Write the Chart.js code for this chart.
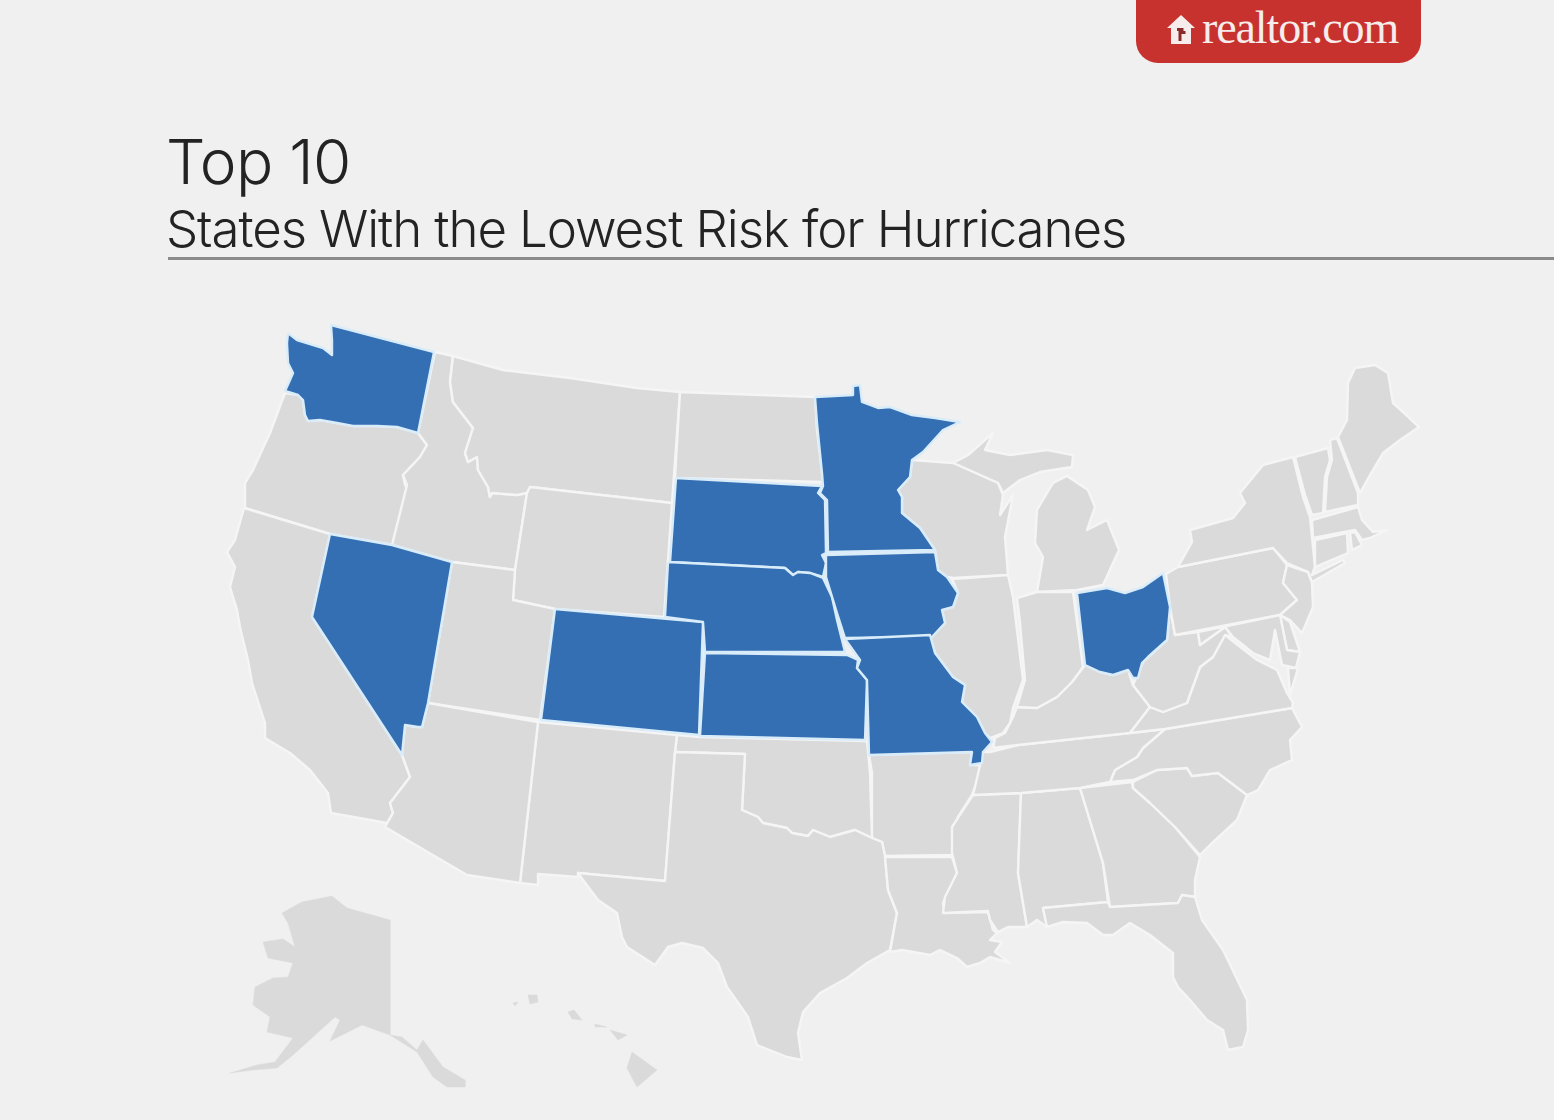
<!DOCTYPE html>
<html><head><meta charset="utf-8">
<script src="https://cdn.jsdelivr.net/npm/chart.js@4/dist/chart.umd.min.js"></script>
<style>
html,body{margin:0;padding:0;background:#f0f0f0;width:1554px;height:1120px;overflow:hidden}
#c{position:absolute;left:0;top:0}
.t{position:absolute;left:166px;font-family:Inter,sans-serif;font-weight:300;color:#232323;white-space:nowrap}
#t1{top:124px;font-size:62px;line-height:76px;letter-spacing:-0.7px}
#t2{top:198px;font-size:51px;line-height:62px;letter-spacing:-1.1px}
#rule{position:absolute;left:168px;top:257px;width:1386px;height:3px;background:#8b8b8b}
#logo{position:absolute;left:1136px;top:-20px;width:285px;height:83px;background:#c8322e;border-radius:22px}
#logoT{position:absolute;left:66px;top:23px;font:46px/50px "Liberation Serif",serif;color:#f6ecec;letter-spacing:-1.1px}
#logo svg{position:absolute;left:31px;top:35px}
</style></head><body>
<canvas id="c" width="1554" height="1120"></canvas>
<div id="t1" class="t">Top 10</div>
<div id="t2" class="t">States With the Lowest Risk for Hurricanes</div>
<div id="rule"></div>
<div id="logo"><svg width="28" height="30" viewBox="0 0 28 30"><path d="M14 0 L28 13 L24 13 L24 29 L4 29 L4 13 L0 13 Z" fill="#f6ecec"/><path d="M10 13h6.500v3h2v3h-4v7h-3v-10h-1.500z" fill="#8a2a2a"/></svg><div id="logoT">realtor.com</div></div>
<script>
const stateNames=["Washington","Nevada","South Dakota","Colorado","Nebraska","Kansas","Iowa","Minnesota","Missouri","Ohio"];
const washington=[[288,333],[297,340],[310,344],[323,348],[332,355],[332,340],[331,325],[434,352],[418,433],[397,427],[377,426],[353,426],[337,423],[320,420],[308,421],[305,415],[303,400],[298,395],[285,391],[290,380],[293,373],[288,363],[287,343]];
const oregon=[[285,393],[298,395],[303,400],[305,415],[308,421],[320,420],[337,423],[353,426],[377,426],[397,427],[418,433],[427,445],[420,457],[403,475],[405,485],[407,488],[393,545],[330,534],[245,508],[245,483],[253,470],[270,433]];
const california=[[244,508],[330,534],[312,617],[402,755],[410,777],[400,790],[390,803],[393,813],[387,823],[331,813],[328,793],[310,770],[290,753],[265,738],[265,723],[252,683],[248,660],[243,640],[240,627],[237,610],[230,587],[235,567],[227,552],[235,540]];
const nevada=[[330,534],[392,545],[452,562],[428,703],[422,727],[418,727],[405,725],[402,755],[312,617]];
const idaho=[[435,352],[453,356],[450,382],[453,402],[473,428],[465,453],[468,462],[477,457],[478,470],[488,487],[490,497],[492,493],[517,495],[527,493],[515,570],[452,562],[392,545],[407,485],[403,475],[420,457],[427,445],[418,433]];
const montana=[[453,356],[503,370],[570,378],[637,388],[680,392],[672,503],[530,487],[527,493],[517,495],[492,493],[490,497],[488,487],[478,470],[477,457],[468,462],[465,453],[473,428],[453,402],[450,382]];
const northDakota=[[680,392],[815,397],[817,430],[823,482],[675,478]];
const southDakota=[[676,478],[822,486],[818,493],[825,500],[826,553],[822,555],[826,563],[823,577],[810,573],[798,572],[793,575],[785,568],[670,562]];
const wyoming=[[530,487],[672,503],[664,617],[555,609],[513,600],[515,570],[527,493]];
const utah=[[452,562],[515,570],[513,600],[555,609],[540,720],[428,703]];
const colorado=[[555,609],[703,622],[699,735],[541,720]];
const nebraska=[[668,562],[785,568],[793,575],[798,572],[810,573],[823,578],[832,597],[837,620],[845,652],[705,652],[703,622],[665,617]];
const kansas=[[705,653],[847,655],[858,660],[857,668],[867,680],[865,740],[700,736]];
const iowa=[[826,555],[935,552],[938,570],[947,577],[958,593],[953,607],[942,610],[945,623],[932,637],[845,638],[837,613],[826,577],[826,563]];
const minnesota=[[815,397],[853,395],[853,386],[860,385],[862,402],[878,408],[890,407],[912,415],[935,418],[960,422],[943,430],[923,452],[912,460],[910,477],[898,490],[902,497],[902,513],[920,528],[935,550],[828,552],[827,500],[820,493],[823,486],[822,473],[817,423]];
const missouri=[[845,639],[930,635],[935,653],[953,677],[965,685],[962,702],[977,717],[985,733],[992,742],[983,752],[982,763],[970,765],[972,752],[869,755],[867,680],[857,668],[860,660]];
const arkansas=[[869,755],[972,752],[970,765],[982,765],[975,787],[972,795],[958,817],[952,830],[953,855],[885,856],[882,842],[872,838],[872,773]];
const oklahoma=[[677,735],[700,737],[867,741],[870,773],[872,838],[855,830],[830,837],[813,830],[808,836],[792,833],[787,828],[763,823],[758,817],[742,810],[745,754],[675,752]];
const newMexico=[[538,722],[677,735],[675,752],[665,881],[578,873],[578,877],[538,874],[538,885],[520,883]];
const arizona=[[428,703],[538,722],[520,883],[467,875],[385,827],[393,813],[390,803],[400,790],[410,777],[402,755],[405,725],[418,727],[422,727]];
const texas=[[675,752],[745,754],[742,810],[758,817],[763,823],[787,828],[792,833],[808,836],[813,830],[830,837],[855,830],[872,838],[882,842],[885,856],[888,890],[897,913],[890,950],[867,963],[847,978],[820,993],[803,1012],[798,1033],[802,1060],[787,1057],[757,1045],[748,1017],[727,987],[718,963],[703,948],[682,943],[668,947],[655,965],[627,947],[622,937],[617,913],[598,900],[583,880],[578,873],[665,881]];
const louisiana=[[885,857],[952,857],[957,873],[943,903],[945,913],[988,912],[993,930],[997,933],[990,940],[1002,942],[995,952],[1010,963],[990,957],[980,963],[967,967],[957,958],[940,950],[930,955],[902,950],[890,952],[897,913],[888,890]];
const mississippi=[[973,795],[1021,793],[1018,873],[1027,927],[1008,927],[998,932],[990,920],[988,911],[943,913],[945,897],[957,873],[952,853],[952,827],[963,810]];
const alabama=[[1021,793],[1080,788],[1103,863],[1108,902],[1043,908],[1047,927],[1037,920],[1027,927],[1018,873]];
const georgia=[[1080,788],[1132,782],[1133,788],[1150,803],[1175,827],[1200,857],[1195,880],[1195,897],[1182,895],[1178,903],[1110,907],[1103,863]];
const florida=[[1043,908],[1108,902],[1110,907],[1178,903],[1182,895],[1195,897],[1202,920],[1223,950],[1247,1000],[1248,1030],[1243,1047],[1228,1050],[1223,1030],[1207,1020],[1190,1000],[1178,987],[1173,977],[1173,953],[1150,935],[1130,923],[1113,935],[1103,935],[1087,923],[1063,922],[1047,927]];
const southCarolina=[[1133,782],[1157,770],[1187,768],[1192,776],[1218,773],[1247,795],[1237,820],[1210,845],[1200,855],[1175,827],[1150,803],[1133,788]];
const northCarolina=[[1165,729],[1292,708],[1302,727],[1290,740],[1292,760],[1270,770],[1258,790],[1247,795],[1218,773],[1192,776],[1187,768],[1157,770],[1133,780],[1110,782],[1115,770],[1137,757],[1143,748]];
const tennessee=[[973,795],[1021,793],[1080,788],[1110,782],[1115,770],[1137,757],[1143,748],[1165,729],[1130,733],[1018,745],[990,752],[983,752],[975,787]];
const kentucky=[[993,748],[1018,745],[1130,733],[1150,707],[1133,685],[1128,670],[1113,675],[1100,672],[1085,665],[1072,682],[1057,697],[1037,708],[1017,707],[1013,717],[1005,733],[995,738]];
const virginia=[[1130,733],[1150,707],[1163,712],[1187,703],[1200,667],[1213,657],[1225,635],[1257,660],[1277,670],[1287,693],[1293,703],[1292,708],[1165,729]];
const virginiaShore=[[1288,668],[1298,668],[1290,695]];
const westVirginia=[[1170,607],[1175,635],[1198,632],[1200,645],[1225,627],[1233,637],[1225,635],[1213,657],[1200,667],[1187,703],[1163,712],[1150,707],[1133,685],[1143,662],[1167,640]];
const pennsylvania=[[1178,567],[1273,548],[1287,565],[1283,583],[1297,600],[1280,615],[1175,635],[1170,607],[1166,574]];
const newYork=[[1178,567],[1192,542],[1190,530],[1233,518],[1245,503],[1240,493],[1263,465],[1293,457],[1303,497],[1310,517],[1315,567],[1312,575],[1343,560],[1345,563],[1312,582],[1308,572],[1287,563],[1273,548]];
const newJersey=[[1287,565],[1308,572],[1312,583],[1313,607],[1302,633],[1290,620],[1280,615],[1297,600],[1283,583]];
const delaware=[[1280,615],[1290,622],[1300,652],[1287,650]];
const maryland=[[1198,632],[1280,615],[1287,650],[1300,652],[1296,668],[1282,665],[1275,630],[1270,660],[1253,653],[1233,637],[1225,627],[1200,645]];
const connecticut=[[1315,540],[1347,533],[1348,553],[1315,567]];
const rhodeIsland=[[1350,533],[1355,532],[1362,545],[1352,550]];
const massachusetts=[[1312,520],[1358,507],[1362,520],[1373,532],[1387,530],[1370,538],[1362,540],[1355,530],[1313,538]];
const vermont=[[1295,457],[1328,448],[1330,460],[1325,477],[1323,513],[1312,515],[1305,495]];
const newHampshire=[[1330,440],[1337,438],[1358,493],[1358,505],[1325,512],[1327,477],[1332,460]];
const maine=[[1338,437],[1347,420],[1348,383],[1355,368],[1375,365],[1388,373],[1393,403],[1403,412],[1419,427],[1400,440],[1383,453],[1370,475],[1360,493]];
const michiganUpper=[[953,463],[968,455],[993,433],[985,450],[1010,455],[1047,450],[1073,455],[1072,467],[1040,472],[1020,480],[1003,493],[998,483],[980,475]];
const michiganLower=[[1037,592],[1043,557],[1035,543],[1037,510],[1053,483],[1067,476],[1088,490],[1095,507],[1087,530],[1107,520],[1119,550],[1113,563],[1103,585],[1077,590]];
const wisconsin=[[912,460],[953,463],[980,475],[998,483],[1003,495],[1000,515],[1013,495],[1005,537],[1008,575],[953,578],[947,577],[938,570],[935,550],[920,528],[902,513],[902,497],[898,490],[910,477]];
const illinois=[[952,579],[1008,575],[1013,597],[1023,680],[1013,708],[1010,723],[1003,733],[990,738],[985,733],[977,717],[962,702],[965,685],[953,677],[935,653],[930,637],[945,623],[942,610],[953,607],[958,593]];
const indiana=[[1017,598],[1037,592],[1073,592],[1083,667],[1072,682],[1057,697],[1037,708],[1017,707],[1025,680],[1020,623]];
const ohio=[[1077,593],[1107,588],[1125,593],[1143,587],[1163,573],[1170,607],[1167,640],[1148,657],[1142,663],[1138,678],[1133,678],[1128,670],[1113,675],[1100,672],[1085,665]];
const alaska=[[282,913],[302,902],[332,896],[347,908],[390,920],[390,1035],[402,1037],[417,1050],[423,1040],[443,1067],[465,1080],[465,1087],[447,1087],[433,1077],[417,1052],[390,1035],[362,1025],[348,1032],[330,1041],[340,1020],[335,1017],[313,1037],[293,1055],[277,1068],[253,1070],[230,1073],[257,1065],[275,1062],[293,1038],[267,1032],[270,1017],[253,1005],[255,987],[273,978],[288,977],[293,963],[268,958],[263,942],[283,939],[295,947],[288,923]];
const hawaiiBig=[[632,1052],[657,1070],[637,1087],[627,1068]];
const maui=[[610,1030],[627,1035],[618,1040]];
const molokai=[[595,1024],[607,1027],[595,1027]];
const oahu=[[568,1012],[574,1010],[582,1020],[572,1019]];
const kauai=[[528,995],[537,995],[538,1002],[530,1004]];
const niihau=[[513,1003],[518,1002],[515,1006]];

const grayStates=[oregon,california,idaho,montana,northDakota,wyoming,utah,arkansas,oklahoma,newMexico,arizona,texas,louisiana,mississippi,alabama,georgia,florida,southCarolina,northCarolina,tennessee,kentucky,virginia,virginiaShore,westVirginia,pennsylvania,newYork,newJersey,delaware,maryland,connecticut,rhodeIsland,massachusetts,vermont,newHampshire,maine,michiganUpper,michiganLower,wisconsin,illinois,indiana];
const offshore=[alaska,hawaiiBig,maui,molokai,oahu,kauai,niihau];
const lowRiskStates=[washington,nevada,southDakota,colorado,nebraska,kansas,iowa,minnesota,missouri,ohio];

const shape=(pts,fillC,lineC,w)=>({
  data:pts.concat([pts[0]]).map(p=>({x:p[0],y:p[1]})),
  showLine:true,fill:'shape',tension:0,pointRadius:0,pointHoverRadius:0,
  backgroundColor:fillC,borderColor:lineC,borderWidth:w,borderJoinStyle:'round'
});
new Chart(document.getElementById('c'),{
  type:'scatter',
  data:{datasets:[
    ...offshore.map(p=>shape(p,'#dadada','#dadada',0.5)),
    ...grayStates.map(p=>shape(p,'#dadada','#f5f5f5',2.4)),
    ...lowRiskStates.map((p,i)=>({...shape(p,'#356fb3','#d9ecfa',2.4),label:stateNames[i]}))
  ].map((d,i,a)=>({...d,order:a.length-i}))},
  options:{
    responsive:false,animation:false,
    layout:{padding:0},
    plugins:{legend:{display:false},tooltip:{enabled:false},title:{display:false}},
    scales:{
      x:{type:'linear',min:0,max:1554,display:false},
      y:{type:'linear',min:0,max:1120,reverse:true,display:false}
    }
  }
});
</script>
</body></html>
